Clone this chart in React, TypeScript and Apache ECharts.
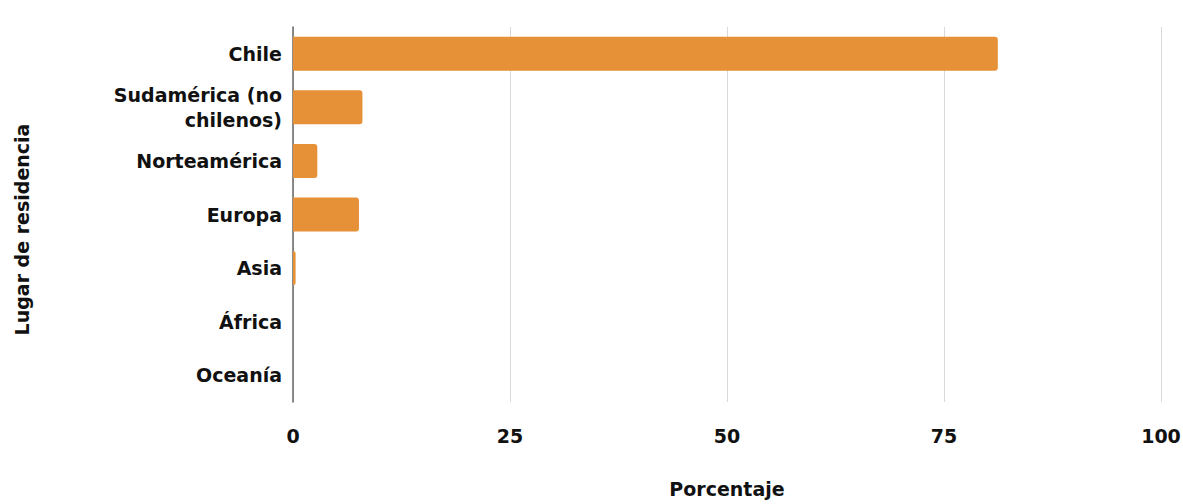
import React, { useEffect, useRef } from "react";
import * as echarts from "echarts";

const categories = [
  "Chile",
  "Sudamérica (no\nchilenos)",
  "Norteamérica",
  "Europa",
  "Asia",
  "África",
  "Oceanía",
];
const values = [81.2, 8.0, 2.8, 7.6, 0.3, 0, 0];
const xTicks = [0, 25, 50, 75, 100];
const xAxisName = "Porcentaje";
const yAxisName = "Lugar de residencia";

const FONT = "'DejaVu Sans', Verdana, sans-serif";

export default function App() {
  const ref = useRef<HTMLDivElement>(null);
  useEffect(() => {
    if (!ref.current) return;
    document.body.style.margin = "0";
    document.body.style.overflow = "hidden";
    const chart = echarts.init(ref.current, undefined, { renderer: "svg" });
    chart.setOption({
      animation: false,
      backgroundColor: "#ffffff",
      grid: {
        left: 293,
        right: 22,
        top: 27,
        height: 375,
        containLabel: false,
        outerBoundsMode: "none",
      },
      xAxis: {
        type: "value",
        min: xTicks[0],
        max: xTicks[xTicks.length - 1],
        interval: 25,
        name: xAxisName,
        nameLocation: "middle",
        nameGap: 77,
        nameTextStyle: { fontFamily: FONT, fontWeight: "bold", fontSize: 19, color: "#111" },
        axisLine: { show: false },
        axisTick: { show: false },
        axisLabel: { fontFamily: FONT, fontWeight: "bold", fontSize: 19, color: "#111", margin: 24 },
        splitLine: { show: true, lineStyle: { color: "#d9d9d9", width: 1 } },
      },
      yAxis: {
        type: "category",
        data: categories,
        inverse: true,
        name: yAxisName,
        nameLocation: "middle",
        nameRotate: 90,
        nameGap: 262,
        nameTextStyle: {
          fontFamily: FONT,
          fontWeight: "bold",
          fontSize: 19,
          color: "#111",
          padding: [0, 30, 0, 0],
        },
        axisLine: { show: true, lineStyle: { color: "#666", width: 1.5 } },
        axisTick: { show: false },
        axisLabel: {
          fontFamily: FONT,
          fontWeight: "bold",
          fontSize: 19,
          color: "#111",
          margin: 11,
          lineHeight: 25,
          align: "right",
        },
      },
      series: [
        {
          type: "bar",
          data: values,
          barWidth: 34,
          itemStyle: { color: "#e69138", borderRadius: [0, 3, 3, 0] },
        },
      ],
    });
    return () => chart.dispose();
  }, []);
  return (
    <div
      ref={ref}
      style={{ position: "absolute", left: 0, top: 0, width: 1183, height: 504 }}
    />
  );
}
